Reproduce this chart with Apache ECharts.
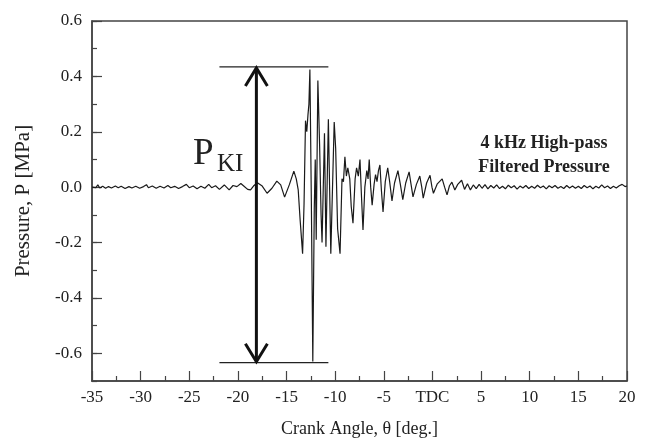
<!DOCTYPE html>
<html lang="en" style="height: 100%">
<head>
  <meta charset="utf-8">
  <title>4 kHz High-pass Filtered Pressure</title>
</head>
<body style="height: 100%; margin: 0; background: #fff;">
  <div id="container" style="width: 651px; height: 443px;"></div>

  <script src="https://cdn.jsdelivr.net/npm/echarts@6/dist/echarts.min.js"></script>

  <script type="text/javascript">
    // crank angle [deg] and filtered pressure [MPa]
    const quietAngle = [-35, -34.8, -34.6, -34.4, -34.2, -33.9, -33.6, -33.3, -33.0, -32.6, -32.3, -32.0,
      -31.6, -31.2, -30.9, -30.5, -30.1, -29.7, -29.4, -29.2, -28.8, -28.4, -28.0, -27.6, -27.2, -26.9,
      -26.5, -26.1, -25.7, -25.3, -25.0, -24.6, -24.2, -23.8, -23.4, -23.0, -22.7, -22.3, -21.9, -21.4,
      -20.9, -20.5, -20.1, -19.7, -19.4, -19.0, -18.7];
    const quietP = [0.000, 0.004, -0.002, 0.008, -0.003, 0.003, -0.004, 0.002, -0.003, 0.004, -0.002, 0.003,
      -0.005, 0.002, -0.003, 0.003, -0.004, 0.002, 0.009, -0.002, 0.004, -0.004, 0.003, -0.003, 0.006, -0.002,
      0.003, -0.005, 0.002, 0.010, -0.002, 0.004, -0.006, 0.003, -0.004, 0.010, -0.002, 0.005, -0.008, 0.008,
      -0.010, 0.006, 0.002, 0.013, 0.004, -0.008, -0.010];

    const knockAngle = [-18.4, -18.0, -17.5, -17.0, -16.5, -16.0, -15.6, -15.2, -14.7, -14.25, -14.0, -13.8,
      -13.6, -13.35, -13.2, -13.05, -12.92, -12.8, -12.7, -12.6, -12.45, -12.3, -12.15, -12.05, -11.95, -11.78,
      -11.6, -11.45, -11.35, -11.1, -10.95, -10.7, -10.45, -10.1, -9.95, -9.75, -9.5, -9.3, -9.15, -9.0,
      -8.85, -8.7, -8.5, -8.35, -8.17, -7.95, -7.8, -7.62, -7.45, -7.3, -7.14, -6.95, -6.75, -6.62, -6.5,
      -6.35, -6.2, -6.0, -5.85, -5.7, -5.55, -5.4, -5.25, -5.08, -4.85, -4.6, -4.4, -4.16, -3.9, -3.55,
      -3.3, -3.05, -2.75, -2.4, -2.2, -2.0, -1.65, -1.3, -1.1, -0.95, -0.6, -0.25, -0.05, 0.1, 0.5, 1.0,
      1.25, 1.5, 1.75, 2.0, 2.3, 2.6, 3.0, 3.3, 3.6, 3.9, 4.2, 4.5, 4.8];
    const knockP = [0.004, 0.016, 0.004, -0.022, -0.004, 0.022, 0.008, -0.036, 0.010, 0.058, 0.030, -0.010,
      -0.120, -0.240, -0.060, 0.240, 0.200, 0.260, 0.300, 0.425, -0.050, -0.630, -0.080, 0.100, -0.190, 0.385,
      0.150, -0.100, -0.200, 0.195, -0.215, 0.245, -0.240, 0.235, 0.140, -0.150, -0.240, 0.030, 0.020, 0.110,
      0.040, 0.070, 0.030, -0.070, -0.130, 0.030, 0.070, 0.040, 0.100, -0.030, -0.155, 0.000, 0.060, 0.030, 0.100,
      0.000, -0.065, 0.010, 0.045, 0.020, 0.060, 0.080, -0.010, -0.090, 0.020, 0.070, 0.020, -0.050, 0.015, 0.060,
      0.010, -0.045, 0.015, 0.055, 0.010, -0.035, 0.010, 0.040, 0.000, -0.040, 0.015, 0.043, 0.000, -0.022, 0.012, 0.030,
      0.000, -0.028, 0.005, 0.018, -0.010, 0.010, 0.025, -0.008, 0.012, -0.010, 0.008, -0.005, 0.010];

    const tailAngle = [5.1, 5.4, 5.7, 6.0, 6.3, 6.6, 6.9, 7.2, 7.5, 7.8, 8.1, 8.4, 8.7, 9.0, 9.3, 9.6, 9.9,
      10.2, 10.5, 10.8, 11.1, 11.4, 11.7, 12.0, 12.3, 12.6, 12.9, 13.2, 13.5, 13.8, 14.1, 14.4, 14.7, 15.0,
      15.3, 15.6, 15.9, 16.2, 16.5, 16.8, 17.1, 17.4, 17.7, 18.0, 18.3, 18.6, 18.9, 19.2, 19.5, 19.8, 20.0];
    const tailP = [-0.004, 0.009, -0.006, 0.006, -0.003, 0.008, -0.005, 0.003, -0.006, 0.007, -0.002, 0.005,
      -0.007, 0.004, -0.003, 0.006, -0.005, 0.003, -0.004, 0.007, -0.002, 0.004, -0.006, 0.005, -0.002, 0.006,
      -0.004, 0.002, -0.005, 0.006, -0.003, 0.004, -0.004, 0.003, -0.005, 0.006, -0.002, 0.004, -0.006, 0.003,
      -0.003, 0.008, -0.002, 0.004, -0.005, 0.003, -0.003, 0.005, 0.010, 0.002, 0.004];

    // P_KI bracket: arrow angle, top/bottom pressure, extent of the horizontal lines
    const pkiAngle = -18.1;
    const pkiTop = 0.434;
    const pkiBottom = -0.634;
    const pkiFrom = -21.9;
    const pkiTo = -10.7;

    const yMajor = [-0.6, -0.4, -0.2, 0.0, 0.2, 0.4, 0.6];

    const trace = [];
    [[quietAngle, quietP], [knockAngle, knockP], [tailAngle, tailP]].forEach(([a, p]) => {
      for (let i = 0; i < a.length; i++) trace.push([a[i], p[i]]);
    });

    const serif = '"Liberation Serif", "Times New Roman", serif';
    const ink = '#222';
    const axisInk = '#444';

    const dom = document.getElementById('container');
    const myChart = echarts.init(dom, null, { renderer: 'canvas' });

    const option = {
      animation: false,
      grid: {
        left: 92, right: 24, top: 21, bottom: 62,
        show: true, borderColor: axisInk, borderWidth: 1.5,
        outerBoundsMode: 'none'
      },
      xAxis: {
        type: 'value', min: -35, max: 20, interval: 5,
        axisLine: { onZero: false, lineStyle: { color: axisInk, width: 1.5 } },
        axisTick: { inside: true, length: 10, lineStyle: { color: axisInk, width: 1.2 } },
        minorTick: { show: true, splitNumber: 2, length: 5, lineStyle: { color: axisInk, width: 1.2 } },
        splitLine: { show: false },
        minorSplitLine: { show: false },
        axisLabel: {
          margin: 8, fontSize: 17, fontFamily: serif, color: ink,
          showMinLabel: true, showMaxLabel: true,
          formatter: v => (v === 0 ? 'TDC' : String(v))
        },
        name: 'Crank Angle, θ [deg.]', nameLocation: 'middle', nameGap: 39,
        nameTextStyle: { fontSize: 18, fontFamily: serif, color: ink }
      },
      yAxis: [
        {
          type: 'value', min: -0.7, max: 0.6, interval: 0.1,
          axisLine: { show: true, onZero: false, lineStyle: { color: axisInk, width: 1.5 } },
          axisTick: { show: true, inside: true, length: 5, lineStyle: { color: axisInk, width: 1.2 } },
          splitLine: { show: false },
          axisLabel: {
            margin: 10, fontSize: 17, fontFamily: serif, color: ink,
            showMinLabel: true, showMaxLabel: true,
            formatter: v => {
              const k = Math.round(v * 10);
              return k % 2 === 0 ? (k / 10).toFixed(1) : '';
            }
          },
          name: 'Pressure, P [MPa]', nameLocation: 'middle', nameGap: 58,
          nameTextStyle: { fontSize: 21, fontFamily: serif, color: ink }
        },
        {
          type: 'value', min: -0.7, max: 0.6, position: 'left',
          axisLine: { show: false, onZero: false },
          axisTick: { show: true, inside: true, length: 10, customValues: yMajor,
            lineStyle: { color: axisInk, width: 1.2 } },
          axisLabel: { show: false },
          splitLine: { show: false }
        }
      ],
      series: [
        {
          type: 'line',
          data: trace,
          symbol: 'none',
          lineStyle: { color: '#1a1a1a', width: 1.2 },
          z: 3
        },
        {
          type: 'custom',
          data: [[pkiAngle, pkiTop]],
          z: 4,
          silent: true,
          renderItem: function (params, api) {
            const top = api.coord([pkiAngle, pkiTop]);
            const bot = api.coord([pkiAngle, pkiBottom]);
            const tl = api.coord([pkiFrom, pkiTop]);
            const tr = api.coord([pkiTo, pkiTop]);
            const bl = api.coord([pkiFrom, pkiBottom]);
            const br = api.coord([pkiTo, pkiBottom]);
            const thin = { stroke: '#222', lineWidth: 1.3 };
            const thick = { stroke: '#111', lineWidth: 3, fill: null };
            return {
              type: 'group',
              children: [
                { type: 'line', shape: { x1: tl[0], y1: tl[1], x2: tr[0], y2: tr[1] }, style: thin },
                { type: 'line', shape: { x1: bl[0], y1: bl[1], x2: br[0], y2: br[1] }, style: thin },
                { type: 'line', shape: { x1: top[0], y1: top[1] + 1, x2: bot[0], y2: bot[1] - 1 }, style: thick },
                { type: 'polyline', shape: { points: [[top[0] - 11, top[1] + 19], [top[0], top[1] + 1], [top[0] + 11, top[1] + 19]] }, style: thick },
                { type: 'polyline', shape: { points: [[bot[0] - 11, bot[1] - 19], [bot[0], bot[1] - 1], [bot[0] + 11, bot[1] - 19]] }, style: thick }
              ]
            };
          }
        }
      ],
      graphic: [
        { type: 'text', x: 193, y: 173, style: { text: 'P', font: '37px ' + serif, fill: ink, verticalAlign: 'bottom' } },
        { type: 'text', x: 217, y: 177, style: { text: 'KI', font: '25px ' + serif, fill: ink, verticalAlign: 'bottom' } },
        { type: 'text', x: 544, y: 143, style: { text: '4 kHz High-pass', font: 'bold 18px ' + serif, fill: ink, align: 'center', verticalAlign: 'middle' } },
        { type: 'text', x: 544, y: 167, style: { text: 'Filtered Pressure', font: 'bold 18px ' + serif, fill: ink, align: 'center', verticalAlign: 'middle' } }
      ]
    };

    myChart.setOption(option);
    window.addEventListener('resize', myChart.resize);
  </script>
</body>
</html>
